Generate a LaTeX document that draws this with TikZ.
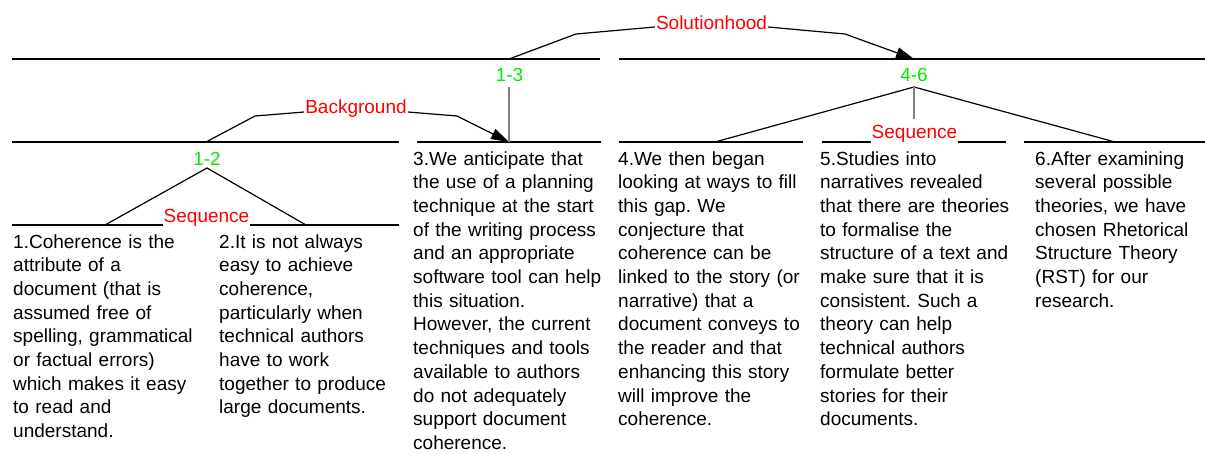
\documentclass[tikz,border=0pt]{standalone}
\usepackage{fontspec}
\setmainfont{Liberation Sans}
\usetikzlibrary{arrows.meta,calc}
\definecolor{rstred}{RGB}{255,0,0}
\definecolor{rstgreen}{RGB}{0,235,0}
\definecolor{rstgray}{RGB}{128,128,128}
\frenchspacing
\begin{document}
\begin{tikzpicture}[x=1pt,y=-1pt,
  every node/.style={font=\fontsize{19}{23.7}\selectfont, inner sep=0pt},
  body/.style={anchor=base west, text width=200pt, align=left},
  rel/.style={text=rstred, anchor=base, inner xsep=1pt, inner ysep=1pt},
  spanlbl/.style={text=rstgreen, anchor=base},
  ln/.style={line width=1.2pt, black},
  nuc/.style={line width=1.4pt, rstgray},
  arr/.style={ln, -{Triangle[length=18pt,width=11pt]}}
]
\useasboundingbox (0,0) rectangle (1205,453);

% span lines
\draw[ln] (12,59) -- (600,59);
\draw[ln] (619,59) -- (1205,59);
\draw[ln] (12,142) -- (399,142);
\draw[ln] (417,142) -- (601,142);
\draw[ln] (619,142) -- (803,142);
\draw[ln] (822,142) -- (1006,142);
\draw[ln] (1024,142) -- (1205,142);
\draw[ln] (12,225) -- (205,225);
\draw[ln] (212,225) -- (399,225);

% coordinates
\coordinate (a13) at (509,59);
\coordinate (a46) at (914,59);
\coordinate (a12) at (206,142);
\coordinate (a3) at (509,142);
\coordinate (p13) at (509,87);
\coordinate (p46) at (914,87);
\coordinate (p12) at (207,168);
\coordinate (b1) at (105,225);
\coordinate (b2) at (306,225);
\coordinate (b4) at (715,142);
\coordinate (b6) at (1115,142);
\coordinate (g46) at (914,119);

% span labels
\node[spanlbl] (l13) at (509.5,81) {1-3};
\node[spanlbl] (l46) at (914,81) {4-6};
\node[spanlbl] (l12) at (207,165) {1-2};

% relation labels
\node[rel] (sol) at (711.5,29) {Solutionhood};
\node[rel] (bg) at (356,113) {Background};

% relations
\draw[ln] (a13) -- (576,34) -- ([yshift=2pt]sol.base west);
\draw[arr] ([yshift=2pt]sol.base east) -- (845,34) -- (a46);
\draw[ln] (a12) -- (255,116) -- ([yshift=1pt]bg.base west);
\draw[arr] ([yshift=1pt]bg.base east) -- (457,116) -- (a3);
\draw[nuc] (p13) -- (a3);
\draw[ln] (b1) -- (p12) -- (b2);
\draw[ln] (b4) -- (p46) -- (b6);
\draw[nuc] (p46) -- (g46);

\node[rel, fill=white] (seqL) at (206.5,222) {Sequence};
\node[rel, fill=white] (seqR) at (914.5,138) {Sequence};

% text segments
\node[body] (t1) at (13,248) {1.Coherence is the\\attribute of a\\document (that is\\assumed free of\\spelling, grammatical\\or factual errors)\\which makes it easy\\to read and\\understand.};
\node[body] (t2) at (219,248) {2.It is not always\\easy to achieve\\coherence,\\particularly when\\technical authors\\have to work\\together to produce\\large documents.};
\node[body] (t3) at (413,165) {3.We anticipate that\\the use of a planning\\technique at the start\\of the writing process\\and an appropriate\\software tool can help\\this situation.\\However, the current\\techniques and tools\\available to authors\\do not adequately\\support document\\coherence.};
\node[body] (t4) at (618,165) {4.We then began\\looking at ways to fill\\this gap. We\\conjecture that\\coherence can be\\linked to the story (or\\narrative) that a\\document conveys to\\the reader and that\\enhancing this story\\will improve the\\coherence.};
\node[body] (t5) at (820,165) {5.Studies into\\narratives revealed\\that there are theories\\to formalise the\\structure of a text and\\make sure that it is\\consistent. Such a\\theory can help\\technical authors\\formulate better\\stories for their\\documents.};
\node[body] (t6) at (1035,165) {6.After examining\\several possible\\theories, we have\\chosen Rhetorical\\Structure Theory\\(RST) for our\\research.};
\end{tikzpicture}
\end{document}
